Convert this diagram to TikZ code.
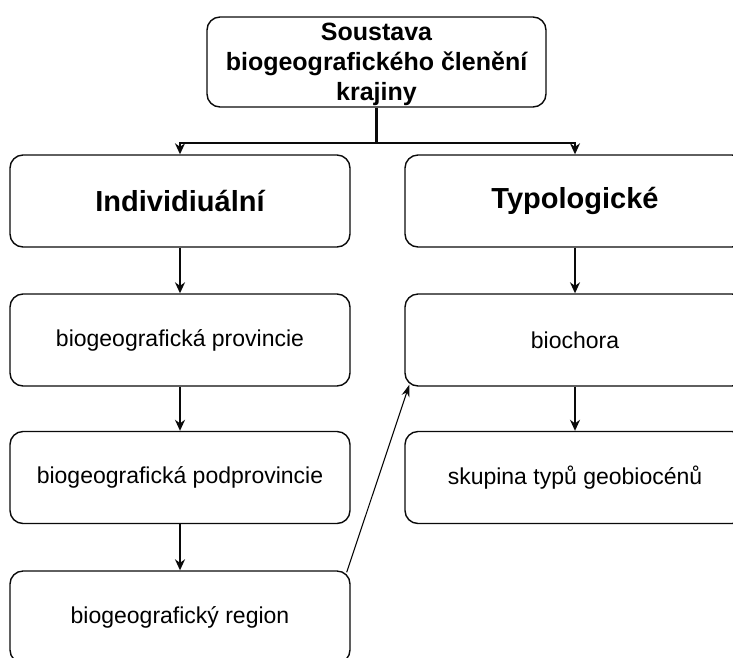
\documentclass[tikz,border=0pt]{standalone}
\usepackage{fontspec}
\setmainfont{Liberation Sans}
\usetikzlibrary{arrows.meta,positioning}
\definecolor{ink}{RGB}{10,10,10}
\tikzset{
  >={Stealth[length=11pt,width=10pt]},
  box/.style={draw=ink,line width=1.4pt,rounded corners=13pt,fill=white,
    minimum width=340pt,minimum height=92pt,align=center,
    font=\fontsize{23}{27}\selectfont},
  head box/.style={box,font=\fontsize{29}{34}\selectfont\bfseries},
  title box/.style={box,minimum width=339pt,minimum height=90pt,text depth=0pt,
    font=\fontsize{25}{30}\selectfont\bfseries},
  flow/.style={->,line width=2.2pt,draw=ink},
  link/.style={->,line width=1.1pt,draw=ink,>={Stealth[length=12pt,width=8pt]}},
}
\begin{document}
\begin{tikzpicture}[x=1pt,y=-1pt]
  \useasboundingbox (0,0) rectangle (733,657);
  \clip (0,0) rectangle (733,657);
  % root
  \node[title box] (top) at (376.5,62) {Soustava\\biogeografického členění\\krajiny};
  % two branches
  \node[head box] (indiv) at (180,201) {Individiuální};
  \node[head box] (typo) at (575,201) {Typologické};
  % left column
  \node[box] (prov) at (180,340) {biogeografická provincie};
  \node[box] (podprov) at (180,477.5) {biogeografická podprovincie};
  \node[box] (region) at (180,617) {biogeografický region};
  % right column
  \node[box] (biochora) at (575,340) {biochora};
  \node[box] (skupina) at (575,477.5) {skupina typů geobiocénů};
  % connectors
  \coordinate (split) at (top.south |- 0,143);
  \draw[line width=2.2pt,draw=ink] (top.south) -- (split);
  \draw[flow] (split) -| (indiv.north);
  \draw[flow] (split) -| (typo.north);
  \draw[flow] (indiv) -- (prov);
  \draw[flow] (prov) -- (podprov);
  \draw[flow] (podprov) -- (region);
  \draw[flow] (typo) -- (biochora);
  \draw[flow] (biochora) -- (skupina);
  \draw[link] ([xshift=-4pt,yshift=-2pt]region.north east) -- ([xshift=5pt,yshift=2pt]biochora.south west);
\end{tikzpicture}
\end{document}
